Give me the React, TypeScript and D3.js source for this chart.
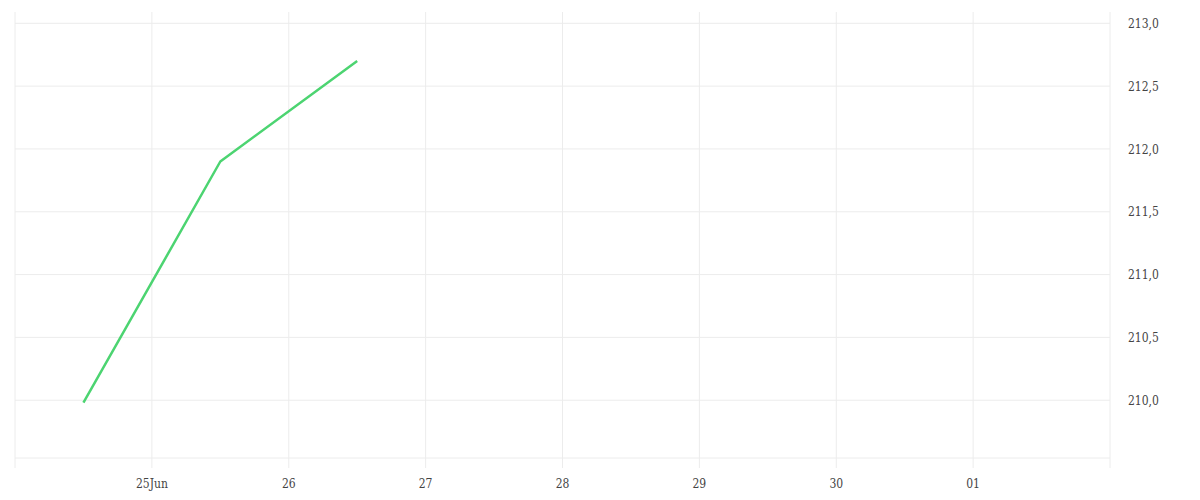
import React from "react";
import * as d3 from "d3";

const dates = ["2024-06-24T12:00", "2024-06-25T12:00", "2024-06-26T12:00"];
const values = [209.98, 211.9, 212.7];
const yTicks = [210.0, 210.5, 211.0, 211.5, 212.0, 212.5, 213.0];
const xTickDates = ["2024-06-25", "2024-06-26", "2024-06-27", "2024-06-28", "2024-06-29", "2024-06-30", "2024-07-01"];
const xTickLabels = ["25Jun", "26", "27", "28", "29", "30", "01"];

const W = 1200, H = 500;
const left = 15, right = 1110, top = 12, bottom = 458;

export default function App() {
  const parse = d3.timeParse("%Y-%m-%dT%H:%M");
  const parseD = d3.timeParse("%Y-%m-%d");
  const x = d3.scaleTime()
    .domain([parseD("2024-06-24")!, parseD("2024-07-02")!])
    .range([left, right]);
  const y = d3.scaleLinear().domain([209.54, 213.09]).range([bottom, top]);
  const pts = dates.map((d, i) => [x(parse(d)!), y(values[i])] as [number, number]);
  const line = d3.line()(pts) || "";
  const fmt = (v: number) => v.toFixed(1).replace(".", ",");
  const grid = "#ececec";
  const font = "'DejaVu Serif Condensed', 'DejaVu Serif', serif";
  return (
    <svg width={W} height={H} style={{ position: "absolute", left: 0, top: 0, background: "#fff" }}>
      {[parseD("2024-06-24")!, ...xTickDates.map((d) => parseD(d)!), parseD("2024-07-02")!].map((d, i) => (
        <line key={"v" + i} x1={x(d)} x2={x(d)} y1={top} y2={bottom + 10} stroke={grid} strokeWidth={1} />
      ))}
      {yTicks.map((t) => (
        <line key={"h" + t} x1={left} x2={right} y1={y(t)} y2={y(t)} stroke={grid} strokeWidth={1} />
      ))}
      <line x1={left} x2={right} y1={bottom} y2={bottom} stroke={grid} strokeWidth={1} />
      {yTicks.map((t) => (
        <text key={"yl" + t} x={1128} y={y(t)} dy="0.38em" fontSize={12} fill="#444" fontFamily={font} style={{ fontStretch: "condensed" }}>
          {fmt(t)}
        </text>
      ))}
      {xTickDates.map((d, i) => (
        <text key={"xl" + d} x={x(parseD(d)!)} y={483} dy="0.38em" textAnchor="middle" fontSize={12} fill="#444" fontFamily={font} style={{ fontStretch: "condensed" }}>
          {xTickLabels[i]}
        </text>
      ))}
      <path d={line} fill="none" stroke="#4cd471" strokeWidth={2.5} strokeLinejoin="round" />
    </svg>
  );
}
